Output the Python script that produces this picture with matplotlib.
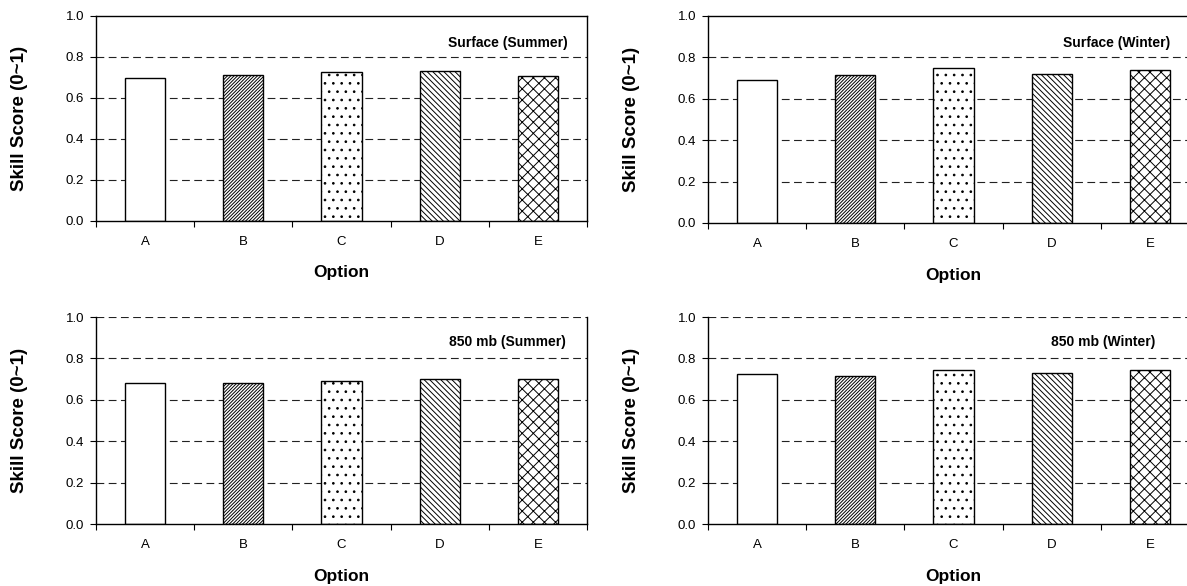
import matplotlib
matplotlib.use("Agg")
import matplotlib.pyplot as plt

# --- Data ---
options = ["A", "B", "C", "D", "E"]
surface_summer = [0.698, 0.711, 0.727, 0.732, 0.704]
surface_winter = [0.690, 0.716, 0.748, 0.722, 0.737]
mb850_summer = [0.683, 0.683, 0.693, 0.699, 0.699]
mb850_winter = [0.723, 0.717, 0.744, 0.731, 0.744]
panel_titles = ["Surface (Summer)", "Surface (Winter)", "850 mb (Summer)", "850 mb (Winter)"]

# --- Style ---
hatches = ["", "//////////", "..", "\\\\\\\\\\\\", "xxx"]
plt.rcParams["font.family"] = ["Liberation Sans", "DejaVu Sans"]
plt.rcParams["hatch.linewidth"] = 0.7

fig = plt.figure(figsize=(11.87, 5.86), dpi=100)

# axes boxes [left, bottom, width, height] in figure fractions
boxes = [
    [0.0809, 0.6234, 0.4137, 0.3498],
    [0.5965, 0.6195, 0.4137, 0.3532],
    [0.0809, 0.1058, 0.4137, 0.3532],
    [0.5965, 0.1058, 0.4137, 0.3532],
]
series = [surface_summer, surface_winter, mb850_summer, mb850_winter]
title_x = [0.961, 0.941, 0.957, 0.91]
title_y = [0.868, 0.868, 0.88, 0.88]


def draw_panel(ax, values, title, tx, ty, top_spine):
    x = range(len(options))
    grid_levels = [0.2, 0.4, 0.6, 0.8] + ([] if top_spine else [1.0])
    for lvl in grid_levels:
        ax.axhline(lvl, color="#222222", linewidth=0.8, linestyle=(0, (7, 4)), zorder=1)
    ax.bar(x, values, width=0.41, color="white", edgecolor="black",
           linewidth=1.0, hatch=hatches, zorder=2)

    ax.set_xlim(-0.5, 4.5)
    ax.set_ylim(0, 1.0)
    ax.set_yticks([0.0, 0.2, 0.4, 0.6, 0.8, 1.0])
    ax.set_yticklabels(["0.0", "0.2", "0.4", "0.6", "0.8", "1.0"])
    ax.set_xticks(list(x))
    ax.set_xticklabels(options)
    ax.set_xticks([-0.5, 0.5, 1.5, 2.5, 3.5, 4.5], minor=True)
    ax.tick_params(axis="x", which="major", length=0, pad=11, labelsize=9.5)
    ax.tick_params(axis="x", which="minor", length=4, width=0.8, direction="out")
    ax.tick_params(axis="y", length=4, width=0.8, direction="out", pad=4.5, labelsize=9.5)

    for side in ["left", "bottom", "right", "top"]:
        ax.spines[side].set_linewidth(1.0)
    if not top_spine:
        ax.spines["top"].set_visible(False)

    ax.set_ylabel("Skill Score (0~1)", fontsize=13.5, fontweight="bold", va="center")
    ax.yaxis.set_label_coords(-0.155, 0.5)
    ax.set_xlabel("Option", fontsize=12.5, fontweight="bold", va="center")
    ax.xaxis.set_label_coords(0.5, -0.255)

    ax.text(tx, ty, title, transform=ax.transAxes, ha="right", va="center",
            fontsize=10, fontweight="bold")


for i in range(4):
    ax = fig.add_axes(boxes[i])
    draw_panel(ax, series[i], panel_titles[i], title_x[i], title_y[i], top_spine=(i < 2))

fig.savefig("out.png", dpi=100)
